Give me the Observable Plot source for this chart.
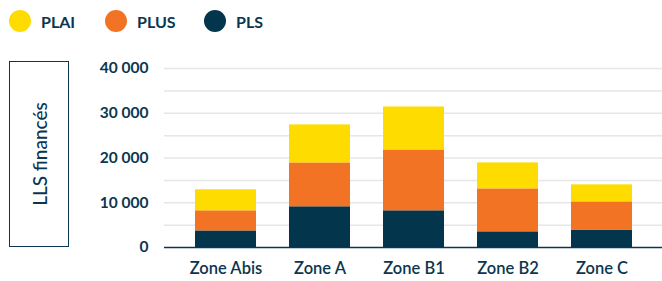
<!DOCTYPE html>
<html>
<head>
<meta charset="utf-8">
<script src="https://cdn.jsdelivr.net/npm/d3@7"></script>
<script src="https://cdn.jsdelivr.net/npm/@observablehq/plot@0.6"></script>
<style>
  html, body { margin: 0; padding: 0; background: #fff; }
  body { width: 662px; height: 281px; position: relative; overflow: hidden; font-family: Lato, "DejaVu Sans", sans-serif; color: #0b3650; }
  #legend { position: absolute; left: 0; top: 0; width: 662px; height: 40px; }
  .item { position: absolute; top: 10px; display: flex; align-items: center; height: 22px; }
  .dot { width: 22px; height: 22px; border-radius: 50%; margin-right: 10px; }
  .lab { font-size: 16px; font-weight: 700; color: #0b3650; }
  #chart { position: absolute; left: 0; top: 40px; }
  #ylab { position: absolute; left: 9px; top: 61px; width: 58px; height: 184px; border: 1.5px solid #0b3650; }
  #ylab span { position: absolute; left: 50%; top: 50%; transform: translate(-50%, -50%) rotate(-90deg); white-space: nowrap; font-size: 19px; font-weight: 500; color: #0b3650; }
</style>
</head>
<body>
<div id="legend"></div>
<div id="chart"></div>
<div id="ylab"><span>LLS financés</span></div>
<script>
const categories = ["Zone Abis", "Zone A", "Zone B1", "Zone B2", "Zone C"];
const series = ["PLAI", "PLUS", "PLS"];
const colors = ["#FFDC00", "#F37324", "#03354D"];
const PLAI = [4700, 8500, 9600, 5800, 3800];
const PLUS = [4500, 9800, 13600, 9600, 6300];
const PLS = [3700, 9100, 8200, 3500, 3900];
const yTicks = [0, 10000, 20000, 30000, 40000];
const gridTicks = [5000, 10000, 15000, 20000, 25000, 30000, 35000, 40000];

const valuesBySeries = {PLAI, PLUS, PLS};
const data = [];
for (const s of ["PLS", "PLUS", "PLAI"]) {
  categories.forEach((c, i) => data.push({zone: c, type: s, value: valuesBySeries[s][i]}));
}

// legend
const legend = document.getElementById("legend");
const legendLeft = [9, 105, 204];
series.forEach((s, i) => {
  const it = document.createElement("div");
  it.className = "item";
  it.style.left = legendLeft[i] + "px";
  it.innerHTML = `<span class="dot" style="background:${colors[i]}"></span><span class="lab">${s}</span>`;
  legend.appendChild(it);
});

const fmt = d => d3.format(",")(d).replace(/,/g, "\u202F");
const navy = "#0b3650";

const chart = Plot.plot({
  width: 662,
  height: 241,
  marginLeft: 164,
  marginRight: 0,
  marginTop: 28,
  marginBottom: 34,
  style: {fontFamily: "Lato, sans-serif", color: navy, background: "transparent"},
  x: {domain: categories, paddingInner: 0.356, paddingOuter: 0.317, label: null},
  y: {domain: [0, 40000], label: null},
  color: {domain: series, range: colors},
  marks: [
    Plot.ruleY(gridTicks, {stroke: "#e6e6e6", strokeWidth: 1.5}),
    Plot.barY(data, Plot.stackY({order: ["PLS", "PLUS", "PLAI"]}, {x: "zone", y: "value", fill: "type"})),
    Plot.ruleY([0], {stroke: navy, strokeWidth: 1.5}),
    Plot.axisY(yTicks, {tickSize: 0, tickPadding: 16, tickFormat: fmt, fontSize: 15.5, fontWeight: 700, fill: navy, label: null}),
    Plot.axisX({tickSize: 0, tickPadding: 15, fontSize: 16.5, fontWeight: 600, fill: navy, label: null})
  ]
});
document.getElementById("chart").appendChild(chart);
</script>
</body>
</html>
